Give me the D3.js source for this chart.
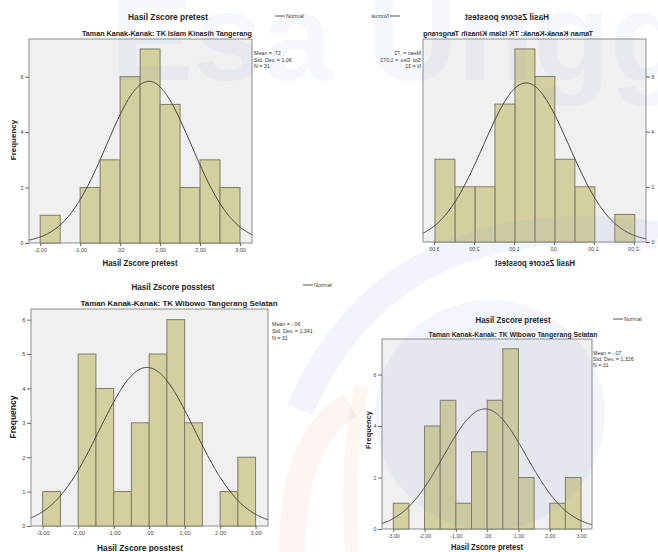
<!DOCTYPE html>
<html lang="id">
<head>
    <meta charset="UTF-8">
    <script src="https://d3js.org/d3.v7.min.js"></script>
    <style>
        body { margin: 0; background: #fff; }
        text { font-family: "Liberation Sans", Arial, sans-serif; }
    </style>
</head>
<body>
    <svg id="chart" width="658" height="552"></svg>
    <script>
        // Data histogram (lebar kelas 0,5)
        const binWidth = 0.5;
        const binsKinasih = [-2, -1.5, -1, -0.5, 0, 0.5, 1, 1.5, 2, 2.5];
        const countsKinasihPre = [1, 0, 2, 3, 6, 7, 5, 2, 3, 2];
        const countsKinasihPost = [1, 0, 2, 3, 6, 7, 5, 2, 2, 3];
        const binsWibowo = [-3, -2.5, -2, -1.5, -1, -0.5, 0, 0.5, 1, 1.5, 2, 2.5];
        const countsWibowoPost = [1, 0, 5, 4, 1, 3, 5, 6, 3, 0, 1, 2];
        const countsWibowoPre = [1, 0, 4, 5, 1, 3, 5, 7, 2, 0, 1, 2];

        // Statistik
        const means = [0.72, 0.72, -0.06, -0.07];
        const stdDevs = [1.06, 1.072, 1.341, 1.326];
        const nCases = [31, 31, 31, 31];
        const meanLabels = [",72", ",72", "-,06", "-,07"];
        const sdLabels = ["1,06", "1,072", "1,341", "1,326"];

        // Teks
        const titles = ["Hasil Zscore pretest", "Hasil Zscore posstest", "Hasil Zscore posstest", "Hasil Zscore pretest"];
        const subtitles = ["Taman Kanak-Kanak: TK Islam Kinasih Tangerang", "Taman Kanak-Kanak: TK Islam Kinasih Tangerang",
            "Taman Kanak-Kanak: TK Wibowo Tangerang Selatan", "Taman Kanak-Kanak: TK Wibowo Tangerang Selatan"];

        // Tick
        const xTicksKinasih = [-2, -1, 0, 1, 2, 3];
        const xTickLabelsKinasih = ["-2,00", "-1,00", ",00", "1,00", "2,00", "3,00"];
        const xTicksWibowo = [-3, -2, -1, 0, 1, 2, 3];
        const xTickLabelsWibowo = ["-3,00", "-2,00", "-1,00", ",00", "1,00", "2,00", "3,00"];
        const yTicksEven = [0, 2, 4, 6];
        const yTicksAll = [0, 1, 2, 3, 4, 5, 6];

        const svg = d3.select("#chart");

        // Tata letak tiap panel
        const panels = [
            { i: 0, bins: binsKinasih, counts: countsKinasihPre, xTicks: xTicksKinasih, xLabels: xTickLabelsKinasih, yTicks: yTicksEven,
              left: 29, right: 252, top: 39, bottom: 243, xDomain: [-2.28, 3.3], yMax: 7.36,
              titleX: 168, titleY: 20, titleSize: 8.5, titleLen: 80, subY: 36, subX: 167, subSize: 7.5, subLen: 170,
              legendX: 275, legendY: 16, statsX: 254, statsY: 55, statsGap: 6.5,
              freqX: 13, freqY: 140, freqSize: 8, xTitleX: 140, xTitleY: 265.5, xTitleLen: 75, xTitleSize: 8.5, tickSize: 5.5 },
            { i: 1, bins: binsKinasih, counts: countsKinasihPost, xTicks: xTicksKinasih, xLabels: xTickLabelsKinasih, yTicks: yTicksEven,
              left: 29, right: 252, top: 39, bottom: 242, xDomain: [-2.28, 3.3], yMax: 7.36,
              titleX: 168, titleY: 20, titleSize: 8.5, titleLen: 84, subY: 36, subX: 167, subSize: 7.5, subLen: 170,
              legendX: 275, legendY: 16, statsX: 254, statsY: 55, statsGap: 6.5,
              xTitleX: 140, xTitleY: 265.5, xTitleLen: 80, xTitleSize: 8.5, tickSize: 5.5,
              mirror: true },
            { i: 2, bins: binsWibowo, counts: countsWibowoPost, xTicks: xTicksWibowo, xLabels: xTickLabelsWibowo, yTicks: yTicksAll,
              left: 31, right: 268, top: 309, bottom: 526, xDomain: [-3.33, 3.35], yMax: 6.31,
              titleX: 173, titleY: 289.5, titleSize: 9, titleLen: 83, subY: 306, subX: 179, subSize: 8, subLen: 197,
              legendX: 303, legendY: 285, statsX: 272, statsY: 325.5, statsGap: 7,
              freqX: 13, freqY: 417, freqSize: 8.5, xTitleX: 140, xTitleY: 550.5, xTitleLen: 86, xTitleSize: 9, tickSize: 5.7 },
            { i: 3, bins: binsWibowo, counts: countsWibowoPre, xTicks: xTicksWibowo, xLabels: xTickLabelsWibowo, yTicks: yTicksEven,
              left: 382, right: 592, top: 339, bottom: 529, xDomain: [-3.36, 3.35], yMax: 7.38,
              titleX: 513, titleY: 323, titleSize: 8.5, titleLen: 75, subY: 337, subX: 513, subSize: 7, subLen: 169,
              legendX: 613, legendY: 319, statsX: 593, statsY: 355, statsGap: 6,
              freqX: 368, freqY: 430, freqSize: 7.5, xTitleX: 487, xTitleY: 550, xTitleLen: 72, xTitleSize: 8.5, tickSize: 5.3 }
        ];

        function drawPanel(p) {
            const g = svg.append("g");
            if (p.mirror) g.attr("transform", "translate(675,0) scale(-1,1)");

            const x = d3.scaleLinear().domain(p.xDomain).range([p.left, p.right]);
            const y = d3.scaleLinear().domain([0, p.yMax]).range([p.bottom, p.top]);

            g.append("rect")
                .attr("x", p.left).attr("y", p.top)
                .attr("width", p.right - p.left).attr("height", p.bottom - p.top)
                .attr("fill", "#f0f0f0").attr("stroke", "#8c8c8c").attr("stroke-width", 1);

            const bars = p.bins.map((b, k) => ({ b, c: p.counts[k] })).filter(d => d.c > 0);
            g.selectAll(".bar").data(bars).enter().append("rect")
                .attr("x", d => x(d.b))
                .attr("y", d => y(d.c))
                .attr("width", d => x(d.b + binWidth) - x(d.b))
                .attr("height", d => y(0) - y(d.c))
                .attr("fill", "#d4cf9e")
                .attr("stroke", "#7e7c66")
                .attr("stroke-width", 1);

            // kurva normal
            const m = means[p.i], s = stdDevs[p.i], n = nCases[p.i];
            const pts = d3.range(p.xDomain[0], p.xDomain[1] + 0.01, 0.02).map(v => {
                const z = (v - m) / s;
                return [v, n * binWidth * Math.exp(-0.5 * z * z) / (s * Math.sqrt(2 * Math.PI))];
            });
            g.append("path")
                .attr("d", d3.line().x(d => x(d[0])).y(d => y(d[1]))(pts))
                .attr("fill", "none").attr("stroke", "#3f3f3f").attr("stroke-width", 1);

            const ya = g.append("g").attr("transform", `translate(${p.left},0)`)
                .call(d3.axisLeft(y).tickValues(p.yTicks).tickFormat(d3.format("d")).tickSize(4).tickPadding(1.5));
            const xa = g.append("g").attr("transform", `translate(0,${p.bottom})`)
                .call(d3.axisBottom(x).tickValues(p.xTicks).tickFormat((d, k) => p.xLabels[k]).tickSize(3).tickPadding(2));
            [ya, xa].forEach(a => {
                a.select(".domain").remove();
                a.selectAll("line").attr("stroke", "#666");
                a.selectAll("text").attr("fill", "#444").style("font-size", p.tickSize + "px")
                    .style("font-family", "'Liberation Sans', Arial, sans-serif");
            });

            g.append("text")
                .attr("x", p.titleX).attr("y", p.titleY).attr("text-anchor", "middle")
                .attr("textLength", p.titleLen).attr("lengthAdjust", "spacingAndGlyphs")
                .style("font-size", p.titleSize + "px").style("font-weight", "bold").attr("fill", "#222")
                .text(titles[p.i]);
            g.append("text")
                .attr("x", p.subX).attr("y", p.subY).attr("text-anchor", "middle")
                .attr("textLength", p.subLen).attr("lengthAdjust", "spacingAndGlyphs")
                .style("font-size", p.subSize + "px").style("font-weight", "bold").attr("fill", "#222")
                .text(subtitles[p.i]);

            // legenda
            g.append("line")
                .attr("x1", p.legendX).attr("x2", p.legendX + 10)
                .attr("y1", p.legendY).attr("y2", p.legendY)
                .attr("stroke", "#555").attr("stroke-width", 1);
            g.append("text")
                .attr("x", p.legendX + 11).attr("y", p.legendY + 2)
                .style("font-size", "5.5px").attr("fill", "#444").text("Normal");

            const stats = [`Mean = ${meanLabels[p.i]}`, `Std. Dev. = ${sdLabels[p.i]}`, `N = ${nCases[p.i]}`];
            g.selectAll(".stat").data(stats).enter().append("text")
                .attr("x", p.statsX).attr("y", (d, k) => p.statsY + k * p.statsGap)
                .style("font-size", "5.3px").attr("fill", "#333").text(d => d);

            // panel cermin tidak punya label Frequency
            if (p.freqSize) {
                g.append("text")
                    .attr("transform", `translate(${p.freqX},${p.freqY}) rotate(-90)`)
                    .attr("text-anchor", "middle").attr("dominant-baseline", "central")
                    .style("font-size", p.freqSize + "px").style("font-weight", "bold").attr("fill", "#222")
                    .text("Frequency");
            }

            g.append("text")
                .attr("x", p.xTitleX).attr("y", p.xTitleY).attr("text-anchor", "middle")
                .attr("textLength", p.xTitleLen).attr("lengthAdjust", "spacingAndGlyphs")
                .style("font-size", p.xTitleSize + "px").style("font-weight", "bold").attr("fill", "#222")
                .text(titles[p.i]);
        }

        panels.forEach(drawPanel);

        // watermark samar di atas grafik
        const wm = svg.append("g").style("pointer-events", "none");
        wm.append("text")
            .attr("x", 110).attr("y", 80)
            .style("font-size", "125px").style("font-weight", "bold")
            .attr("fill", "#6f95d6").attr("opacity", 0.07)
            .text("Esa Unggul");
        wm.append("circle")
            .attr("cx", 490).attr("cy", 415).attr("r", 115)
            .attr("fill", "#6f95d6").attr("opacity", 0.09);
        wm.append("path")
            .attr("d", "M300,410 Q390,200 658,235")
            .attr("fill", "none").attr("stroke", "#8fb0e0").attr("stroke-width", 28).attr("opacity", 0.12);
        wm.append("path")
            .attr("d", "M292,552 Q292,440 350,405")
            .attr("fill", "none").attr("stroke", "#f08a7a").attr("stroke-width", 26).attr("opacity", 0.1);
        wm.append("path")
            .attr("d", "M352,552 Q345,460 362,385")
            .attr("fill", "none").attr("stroke", "#f0a070").attr("stroke-width", 14).attr("opacity", 0.1);
    </script>
</body>
</html>
